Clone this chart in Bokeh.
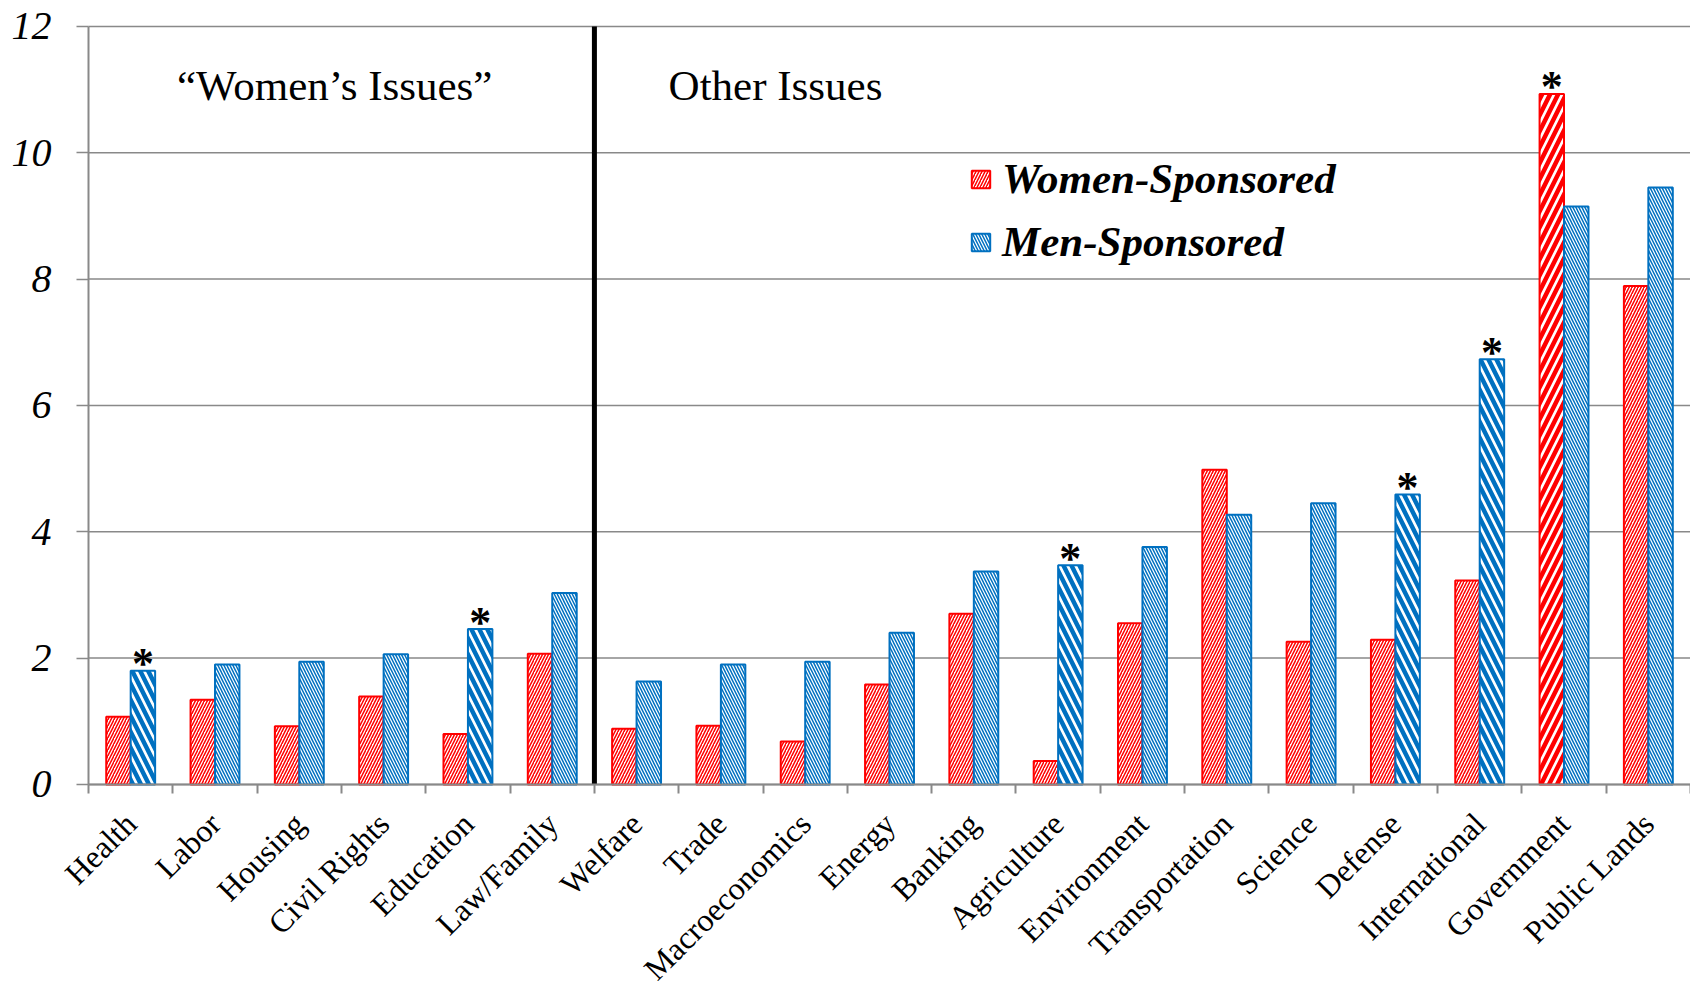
import math
from bokeh.plotting import figure
from bokeh.models import (ColumnDataSource, FixedTicker, Label, Legend, LegendItem, Range1d)
from bokeh.core.properties import value
from bokeh.embed import file_html
from bokeh.resources import INLINE

categories = ["Health", "Labor", "Housing", "Civil Rights", "Education", "Law/Family",
              "Welfare", "Trade", "Macroeconomics", "Energy", "Banking", "Agriculture",
              "Environment", "Transportation", "Science", "Defense", "International",
              "Government", "Public Lands"]
women = [1.07, 1.34, 0.92, 1.39, 0.80, 2.07, 0.88, 0.93, 0.68, 1.58, 2.70, 0.37,
         2.55, 4.98, 2.26, 2.29, 3.23, 10.93, 7.89]
men = [1.80, 1.90, 1.94, 2.06, 2.46, 3.03, 1.63, 1.90, 1.94, 2.40, 3.37, 3.47,
       3.76, 4.27, 4.45, 4.59, 6.73, 9.15, 9.45]
women_sig = [False] * 17 + [True, False]
men_sig = [True, False, False, False, True, False, False, False, False, False, False, True,
           False, False, False, True, True, False, False]
y_ticks = [0, 2, 4, 6, 8, 10, 12]
n_womens_issues = 6

SERIF = "Liberation Serif"
RED = "#FF0000"
BLUE = "#0070C0"
GRID = "#898989"

n = len(categories)
centers = [i + 0.5 for i in range(n)]
off = 0.145
bw = 0.29

wsrc = ColumnDataSource(dict(
    x=[c - off for c in centers], top=women,
    hs=[16 if s else 6 for s in women_sig],
    hw=[4.5 if s else 1.5 for s in women_sig]))
msrc = ColumnDataSource(dict(
    x=[c + off for c in centers], top=men,
    hs=[16 if s else 6 for s in men_sig],
    hw=[4.5 if s else 1.5 for s in men_sig]))

# The frame fills the whole canvas; both axes are pinned at 0 so that their
# labels have room inside the frame.
x_left, y_bottom, y_top = -1.044, -3.12, 12.41
p = figure(width=1690, height=981, output_backend="svg", toolbar_location=None,
           x_range=Range1d(x_left, n), y_range=Range1d(y_bottom, y_top), title=None,
           min_border=0, min_border_left=0, min_border_right=0,
           min_border_top=0, min_border_bottom=0)
p.outline_line_color = None
p.background_fill_color = "white"
p.xgrid.grid_line_color = None
p.ygrid.grid_line_color = None

# horizontal gridlines across the plotting area only
p.segment(x0=[0] * len(y_ticks), y0=y_ticks, x1=[n] * len(y_ticks), y1=y_ticks,
          line_color=GRID, line_width=1.5, level="underlay")

rw = p.vbar(x="x", top="top", width=bw, source=wsrc, fill_color="white",
            line_color=RED, line_width=2, hatch_pattern="/", hatch_color=RED,
            hatch_scale="hs", hatch_weight="hw")
rm = p.vbar(x="x", top="top", width=bw, source=msrc, fill_color="white",
            line_color=BLUE, line_width=2, hatch_pattern="\\", hatch_color=BLUE,
            hatch_scale="hs", hatch_weight="hw")

# asterisks over significant differences
ax = [centers[i] - off for i in range(n) if women_sig[i]] + [centers[i] + off for i in range(n) if men_sig[i]]
ay = [women[i] for i in range(n) if women_sig[i]] + [men[i] for i in range(n) if men_sig[i]]
p.text(x=ax, y=ay, text=["*"] * len(ax), text_font=value(SERIF), text_font_style="bold",
       text_font_size="44px", text_align="center", text_baseline="alphabetic",
       text_color="black", y_offset=-7)

# divider between the two groups of issues
p.segment(x0=[n_womens_issues], y0=[y_ticks[0]], x1=[n_womens_issues], y1=[y_ticks[-1]],
          line_color="black", line_width=5)

# section labels
p.add_layout(Label(x=2.92, y=11.07, text="\u201cWomen\u2019s Issues\u201d", text_font=SERIF,
                   text_font_size="43px", text_align="center", text_baseline="alphabetic",
                   text_color="black"))
p.add_layout(Label(x=6.88, y=11.07, text="Other Issues", text_font=SERIF,
                   text_font_size="43px", text_align="left", text_baseline="alphabetic",
                   text_color="black"))

# x axis: tick marks between categories, rotated labels at category centres
xa = p.xaxis[0]
xa.fixed_location = 0
xa.bounds = (0, n)
xa.ticker = FixedTicker(ticks=centers, minor_ticks=list(range(n + 1)))
xa.major_label_overrides = {c: name for c, name in zip(centers, categories)}
xa.major_label_orientation = math.pi / 4
xa.major_label_text_font = SERIF
xa.major_label_text_font_size = "32px"
xa.major_label_text_color = "black"
xa.major_label_standoff = 25
xa.major_tick_line_color = None
xa.minor_tick_line_color = GRID
xa.minor_tick_line_width = 2
xa.minor_tick_in = 0
xa.minor_tick_out = 9
xa.axis_line_color = GRID
xa.axis_line_width = 2

ya = p.yaxis[0]
ya.fixed_location = 0
ya.bounds = (y_ticks[0], y_ticks[-1])
ya.ticker = FixedTicker(ticks=y_ticks, minor_ticks=[])
ya.major_label_text_font = SERIF
ya.major_label_text_font_style = "italic"
ya.major_label_text_font_size = "40px"
ya.major_label_text_color = "black"
ya.major_label_standoff = 25
ya.major_tick_in = 0
ya.major_tick_out = 12
ya.major_tick_line_color = GRID
ya.major_tick_line_width = 1.5
ya.axis_line_color = GRID
ya.axis_line_width = 2

legend = Legend(items=[LegendItem(label="Women-Sponsored", renderers=[rw], index=0),
                       LegendItem(label="Men-Sponsored", renderers=[rm], index=1)],
                location=(969, 715), orientation="vertical",
                label_text_font=SERIF, label_text_font_style="bold italic",
                label_text_font_size="43px", label_text_color="black",
                glyph_width=23, glyph_height=22, label_standoff=10, spacing=14,
                padding=5, margin=0, border_line_color=None, background_fill_alpha=0)
p.add_layout(legend)

open("out.html", "w").write(file_html(p, INLINE))
